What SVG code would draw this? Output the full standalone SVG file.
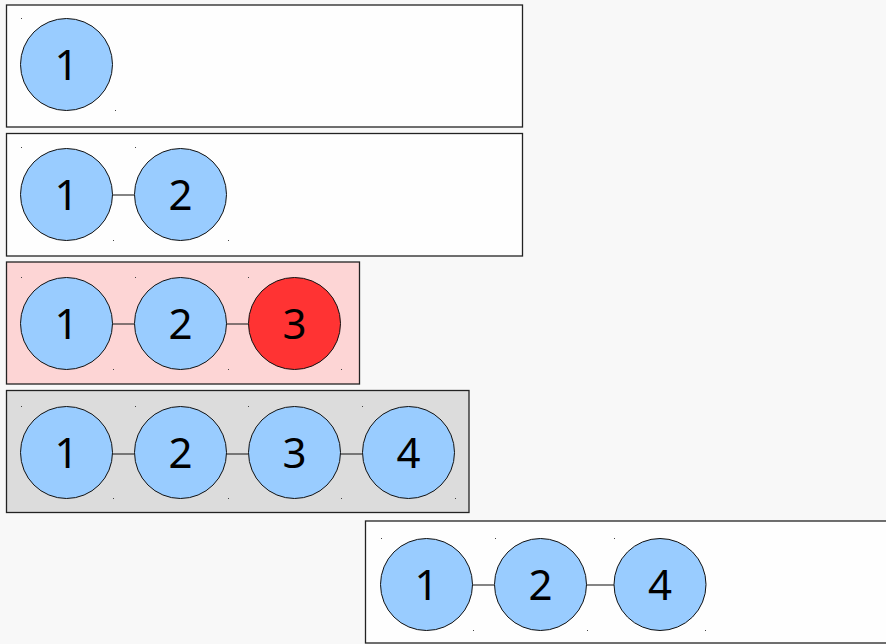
<svg xmlns="http://www.w3.org/2000/svg" width="886" height="644" viewBox="0 0 886 644">
<style>
.box{stroke:#222;stroke-width:1.3}
.plain{fill:#fefefe}
.pink{fill:#fdd5d5}
.gray{fill:#dcdcdc}
.n{fill:#99ccff;stroke:#111;stroke-width:1}
.red{fill:#ff3333}
.t{font-family:"Noto Sans","Open Sans","DejaVu Sans",sans-serif;font-size:42px;fill:#000;text-anchor:middle}
.e{stroke:#333;stroke-width:1.2}
.d{fill:#444}
</style>
<rect width="886" height="644" fill="#f8f8f8"/>
<g id="frames">
<rect class="box plain" x="6.5" y="5" width="516" height="122"/>
<rect class="box plain" x="6.5" y="133.5" width="516" height="122.5"/>
<rect class="box pink" x="6.5" y="262" width="353" height="122"/>
<rect class="box gray" x="6.5" y="390.5" width="462.5" height="122"/>
<rect class="box plain" x="365.5" y="521" width="525" height="122"/>
</g>
<g id="connectors">
<line class="e" x1="112" y1="195" x2="134" y2="195"/>
<line class="e" x1="112" y1="324" x2="134" y2="324"/>
<line class="e" x1="226" y1="324" x2="248" y2="324"/>
<line class="e" x1="112" y1="454" x2="134" y2="454"/>
<line class="e" x1="226" y1="454" x2="248" y2="454"/>
<line class="e" x1="340" y1="454" x2="362" y2="454"/>
<line class="e" x1="472" y1="585" x2="494" y2="585"/>
<line class="e" x1="586" y1="585" x2="614" y2="585"/>
</g>
<g id="dots">
<rect class="d" x="21" y="18" width="1" height="1"/><rect class="d" x="115" y="110" width="1" height="1"/>
<rect class="d" x="21" y="147" width="1" height="1"/><rect class="d" x="135" y="147" width="1" height="1"/><rect class="d" x="113" y="240" width="1" height="1"/><rect class="d" x="228" y="240" width="1" height="1"/>
<rect class="d" x="21" y="277" width="1" height="1"/><rect class="d" x="135" y="277" width="1" height="1"/><rect class="d" x="248" y="277" width="1" height="1"/><rect class="d" x="113" y="369" width="1" height="1"/><rect class="d" x="228" y="369" width="1" height="1"/><rect class="d" x="341" y="369" width="1" height="1"/>
<rect class="d" x="21" y="406" width="1" height="1"/><rect class="d" x="135" y="406" width="1" height="1"/><rect class="d" x="248" y="406" width="1" height="1"/><rect class="d" x="362" y="406" width="1" height="1"/><rect class="d" x="113" y="498" width="1" height="1"/><rect class="d" x="228" y="498" width="1" height="1"/><rect class="d" x="341" y="498" width="1" height="1"/><rect class="d" x="455" y="498" width="1" height="1"/>
<rect class="d" x="381" y="538" width="1" height="1"/><rect class="d" x="495" y="538" width="1" height="1"/><rect class="d" x="614" y="538" width="1" height="1"/><rect class="d" x="473" y="630" width="1" height="1"/><rect class="d" x="587" y="630" width="1" height="1"/><rect class="d" x="705" y="630" width="1" height="1"/>
</g>
<g id="r1n1"><circle class="n" cx="66.5" cy="64.5" r="46"/><text class="t" x="66.5" y="80">1</text></g>
<g id="r2n1"><circle class="n" cx="66.5" cy="194.5" r="46"/><text class="t" x="66.5" y="210">1</text></g>
<g id="r2n2"><circle class="n" cx="180.5" cy="194.5" r="46"/><text class="t" x="180.5" y="210">2</text></g>
<g id="r3n1"><circle class="n" cx="66.5" cy="323.5" r="46"/><text class="t" x="66.5" y="339">1</text></g>
<g id="r3n2"><circle class="n" cx="180.5" cy="323.5" r="46"/><text class="t" x="180.5" y="339">2</text></g>
<g id="r3n3"><circle class="n red" cx="294.5" cy="323.5" r="46"/><text class="t" x="294.5" y="339">3</text></g>
<g id="r4n1"><circle class="n" cx="66.5" cy="452.5" r="46"/><text class="t" x="66.5" y="468">1</text></g>
<g id="r4n2"><circle class="n" cx="180.5" cy="452.5" r="46"/><text class="t" x="180.5" y="468">2</text></g>
<g id="r4n3"><circle class="n" cx="294.5" cy="452.5" r="46"/><text class="t" x="294.5" y="468">3</text></g>
<g id="r4n4"><circle class="n" cx="408.5" cy="452.5" r="46"/><text class="t" x="408.5" y="468">4</text></g>
<g id="r5n1"><circle class="n" cx="426.5" cy="584.5" r="46"/><text class="t" x="426.5" y="600">1</text></g>
<g id="r5n2"><circle class="n" cx="540.5" cy="584.5" r="46"/><text class="t" x="540.5" y="600">2</text></g>
<g id="r5n4"><circle class="n" cx="660" cy="584.5" r="46"/><text class="t" x="660" y="600">4</text></g>
</svg>
